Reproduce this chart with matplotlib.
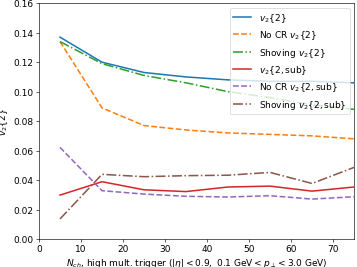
import numpy as np
import matplotlib
matplotlib.use("Agg")
import matplotlib.pyplot as plt

nch = [5, 15, 25, 35, 45, 55, 65, 75]

v2 = [0.137, 0.120, 0.113, 0.110, 0.108, 0.107, 0.107, 0.106]
v2_nocr = [0.134, 0.089, 0.077, 0.074, 0.072, 0.071, 0.070, 0.068]
v2_shov = [0.134, 0.119, 0.111, 0.106, 0.100, 0.096, 0.091, 0.088]
v2sub = [0.0298, 0.0389, 0.0334, 0.0322, 0.0353, 0.0359, 0.0325, 0.0353]
v2sub_nocr = [0.0622, 0.0328, 0.0305, 0.0290, 0.0285, 0.0294, 0.0271, 0.0287]
v2sub_shov = [0.0136, 0.0439, 0.0423, 0.0430, 0.0433, 0.0452, 0.0377, 0.0486]

plt.rcParams['font.size'] = 11.6

fig = plt.figure(figsize=(6.4, 4.8), dpi=357 / 6.4)
ax = fig.add_subplot(111)

lw = 2.0
ax.plot(nch, v2, color='C0', ls='-', lw=lw, label=r'$v_2\{2\}$')
ax.plot(nch, v2_nocr, color='C1', ls='--', lw=lw, label=r'No CR $v_2\{2\}$')
ax.plot(nch, v2_shov, color='C2', ls='-.', lw=lw, label=r'Shoving $v_2\{2\}$')
ax.plot(nch, v2sub, color='C3', ls='-', lw=lw, label=r'$v_2\{2, \mathrm{sub}\}$')
ax.plot(nch, v2sub_nocr, color='C4', ls='--', lw=lw, label=r'No CR $v_2\{2, \mathrm{sub}\}$')
ax.plot(nch, v2sub_shov, color='C5', ls='-.', lw=lw, label=r'Shoving $v_2\{2, \mathrm{sub}\}$')

ax.set_xlim(0, 75)
ax.set_ylim(0, 0.16)
ax.set_xlabel(r'$N_{ch}$, high mult. trigger ($|\eta| < 0.9,\ 0.1$ GeV$ < p_\perp < 3.0$ GeV)')
ax.set_ylabel(r'$v_2\{2\}$')
ax.legend(loc='upper right')

fig.subplots_adjust(left=39 / 357, right=354 / 357, top=1 - 4 / 268, bottom=1 - 240 / 268)
fig.savefig('out.png', dpi=357 / 6.4)
